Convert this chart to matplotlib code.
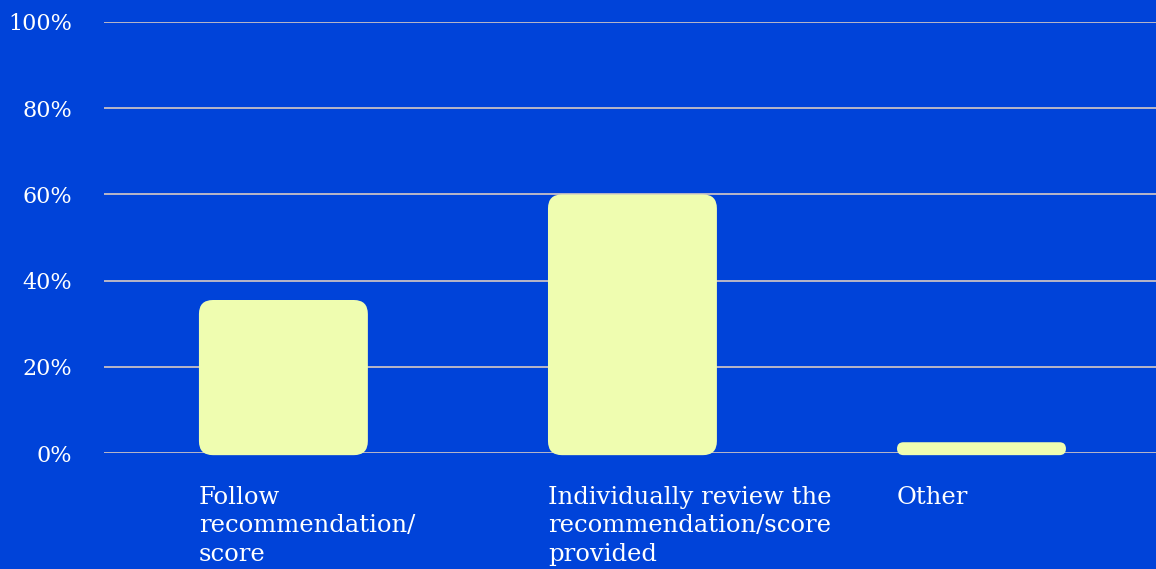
"""Bar chart: how recommendations/scores are used."""
import matplotlib.pyplot as plt
from matplotlib.patches import FancyBboxPatch
from matplotlib.ticker import PercentFormatter

categories = [
    "Follow\nrecommendation/\nscore",
    "Individually review the\nrecommendation/score\nprovided",
    "Other",
]
values = [35.5, 60, 2.5]
yticks = [0, 20, 40, 60, 80, 100]

BG = "#0043d9"
BAR = "#effdb0"
GRID = "#d8cac4"
FONT = "DejaVu Serif"

W, H, DPI = 1156, 569, 100
fig = plt.figure(figsize=(W / DPI, H / DPI), dpi=DPI)
fig.patch.set_facecolor(BG)
ax = fig.add_axes([104 / W, (H - 453) / H, 1 - 104 / W, 431 / H])
ax.set_facecolor(BG)
ax.set_xlim(-0.514, 2.5)
ax.set_ylim(0, 100)

for s in ax.spines.values():
    s.set_visible(False)
ax.set_yticks(yticks)
ax.yaxis.set_major_formatter(PercentFormatter(decimals=0))
ax.tick_params(axis="y", length=0, pad=23, labelsize=16, labelcolor="white")
ax.tick_params(axis="x", length=0, labelbottom=False)
for lab in ax.get_yticklabels():
    lab.set_family(FONT)
ax.grid(axis="y", color=GRID, lw=1.2)
ax.set_axisbelow(True)

# rounded bars, radius ~14 px
bar_w = 0.484
px_x = 431 / 100  # px per percent
px_u = (W - 104) / (2.5 + 0.514)  # px per category unit
for i, v in enumerate(values):
    bottom = -0.5
    h_px = (v - bottom) * px_x
    r_px = min(14, h_px / 2)
    r_x = r_px / px_u
    p = FancyBboxPatch((i - bar_w / 2, bottom), bar_w, v - bottom,
                       boxstyle=f"round,pad=0,rounding_size={r_x}",
                       mutation_aspect=px_u / px_x,
                       facecolor=BAR, edgecolor="none", zorder=3,
                       clip_on=False)
    ax.add_patch(p)
    ax.annotate(categories[i], xy=(i - bar_w / 2, 0),
                xycoords=("data", "axes fraction"),
                xytext=(0, -33), textcoords="offset pixels",
                ha="left", va="top", color="white", fontsize=17.5,
                family=FONT, linespacing=1.3)

fig.savefig("out.png", dpi=DPI, facecolor=BG)
